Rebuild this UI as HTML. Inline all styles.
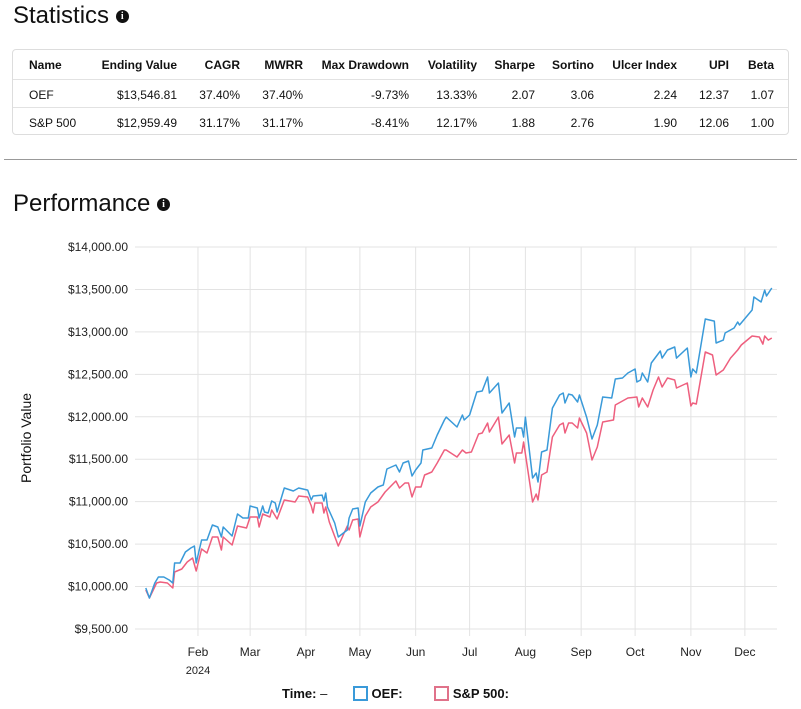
<!DOCTYPE html>
<html><head><meta charset="utf-8">
<style>
body{margin:0;width:801px;height:709px;background:#fff;font-family:"Liberation Sans",sans-serif;color:#111;position:relative;overflow:hidden}
.h{position:absolute;font-size:24px;color:#111}
.info{display:inline-block;width:13px;height:13px;border-radius:50%;background:#111;color:#fff;font-size:10px;font-weight:bold;text-align:center;line-height:13px;vertical-align:middle;font-family:"Liberation Serif",serif}
#tbl{position:absolute;left:12px;top:49px;width:777px;height:86px;border:1px solid #ddd;border-radius:4px;box-sizing:border-box}
.row{position:absolute;left:0;width:775px;height:28px;font-size:12px}
.row span{position:absolute;top:8px;white-space:nowrap}
.hd span{font-weight:bold}
.sep{border-top:1px solid #e2e2e2}
</style></head><body>
<div class="h" style="left:13px;top:2px">Statistics <span class="info">i</span></div>
<div id="tbl"></div>
<div style="position:absolute;left:4px;top:159px;width:793px;border-top:1px solid #999"></div>
<div class="h" style="left:13px;top:190px">Performance <span class="info">i</span></div>
<svg id="chart" width="801" height="709" style="position:absolute;left:0;top:0"></svg>
<div style="position:absolute;top:686px;left:282px;font-size:13px;font-weight:bold;white-space:nowrap">
<span>Time: <span style="font-weight:normal">–</span></span>
<span style="margin-left:22px"><span style="display:inline-block;width:11px;height:11px;border:2px solid #3a9ad9;vertical-align:-3px"></span> OEF:</span>
<span style="margin-left:28px"><span style="display:inline-block;width:11px;height:11px;border:2px solid #e0728a;vertical-align:-3px"></span> S&amp;P 500:</span>
</div>
<script>
const headers=["Name","Ending Value","CAGR","MWRR","Max Drawdown","Volatility","Sharpe","Sortino","Ulcer Index","UPI","Beta"];
const rowOEF=["OEF","$13,546.81","37.40%","37.40%","-9.73%","13.33%","2.07","3.06","2.24","12.37","1.07"];
const rowSPX=["S&P 500","$12,959.49","31.17%","31.17%","-8.41%","12.17%","1.88","2.76","1.90","12.06","1.00"];
const colRight=[0,164,227,290,396,464,522,581,664,716,761];
const tbl=document.getElementById('tbl');
[headers,rowOEF,rowSPX].forEach((r,ri)=>{
  const d=document.createElement('div');
  d.className='row'+(ri==0?' hd':' sep');
  d.style.top=(ri*28+(ri>0?1:0))+'px';
  
  
  r.forEach((t,ci)=>{
    const s=document.createElement('span');
    s.textContent=t;
    
    
    if(ci==0)s.style.left='16px';else s.style.right=(775-colRight[ci])+'px';
    d.appendChild(s);
  });
  tbl.appendChild(d);
});

// chart data: day-of-year (2024, Jan 1 = 0) and portfolio value
const oefDays=[2,4,7,9,12,15,17,18,21,24,27,29,30,33,36,39,42,44,45,50,53,56,59,60,64,65,67,68,70,72,74,75,79,84,87,92,94,95,100,101,102,103,107,109,114,115,117,120,121,124,127,131,134,136,141,143,145,148,150,152,155,156,161,164,168,169,175,178,179,182,186,189,192,193,198,200,204,207,208,211,212,213,217,219,220,222,225,228,232,234,235,237,239,242,243,247,250,253,256,261,263,267,270,274,275,277,278,281,283,288,289,292,296,297,303,305,306,308,313,318,319,323,324,329,331,332,339,340,344,346,347,350];
const oefVals=[9983,9865,10042,10113,10113,10077,10042,10278,10278,10407,10454,10478,10278,10548,10548,10725,10702,10584,10702,10596,10855,10808,10808,10949,10925,10808,10949,10878,10867,11008,10984,10878,11161,11126,11161,11137,11020,11067,11078,11008,11102,10937,10749,10584,10666,10808,10914,10925,10713,10996,11102,11173,11196,11385,11432,11350,11456,11479,11302,11373,11456,11609,11632,11785,11962,11997,11880,12021,11962,12021,12292,12304,12469,12280,12398,12045,12162,11762,11868,11868,11762,11997,11279,11338,11232,11585,11609,12103,12257,12280,12162,12268,12257,12174,12257,11997,11738,11903,12233,12221,12445,12457,12516,12563,12410,12433,12516,12410,12634,12775,12692,12787,12822,12692,12810,12469,12563,12516,13152,13128,12869,12904,12987,13046,13117,13081,13258,13411,13352,13493,13423,13517];
const spxDays=[2,4,8,10,14,17,18,22,25,28,30,33,36,39,42,44,45,50,53,58,60,64,65,67,71,72,75,79,85,87,92,94,95,96,100,101,102,104,109,114,115,117,120,121,124,127,131,135,141,143,146,148,150,152,155,157,161,164,168,169,175,178,180,183,187,189,192,193,198,200,204,207,208,211,212,217,219,220,222,225,228,232,234,235,237,239,242,243,247,250,253,256,262,263,270,275,276,278,281,284,287,289,292,296,297,303,305,306,308,313,317,319,323,327,331,333,339,343,345,346,348,350];
const spxVals=[9959,9865,10042,10054,10042,9983,10172,10207,10289,10336,10183,10442,10395,10584,10584,10431,10584,10490,10713,10690,10819,10819,10702,10855,10819,10902,10796,11020,10996,11067,11055,10949,10867,10984,10984,10867,10937,10761,10478,10713,10666,10784,10796,10584,10831,10937,10996,11114,11244,11161,11220,11220,11055,11173,11173,11314,11350,11456,11609,11609,11526,11609,11573,11585,11797,11809,11927,11821,11997,11679,11785,11456,11573,11573,11703,10996,11090,11020,11314,11350,11762,11903,11927,11809,11927,11927,11868,11986,11809,11491,11644,11939,11962,12139,12221,12233,12115,12221,12115,12316,12469,12351,12457,12433,12339,12398,12127,12162,12151,12763,12728,12492,12551,12692,12787,12846,12952,12940,12857,12952,12904,12928];
const yTicks=[9500,10000,10500,11000,11500,12000,12500,13000,13500,14000];
const monthLabels=["Feb","Mar","Apr","May","Jun","Jul","Aug","Sep","Oct","Nov","Dec"];
const monthDays=[31,60,91,121,152,182,213,244,274,305,335];

const X0=142.2,XS=1.799,Y0=629,YS=42.44/500;
function xs(d){return X0+d*XS}
function ys(v){return Y0-(v-9500)*YS}
const svg=document.getElementById('chart');
const NS='http://www.w3.org/2000/svg';
function el(t,a){const e=document.createElementNS(NS,t);for(const k in a)e.setAttribute(k,a[k]);svg.appendChild(e);return e}
yTicks.forEach(v=>{
  const l=el('line',{x1:135,x2:777,y1:ys(v),y2:ys(v),stroke:'#e3e3e3','stroke-width':1});
  
  
  const t=el('text',{x:128,y:ys(v)+4,'text-anchor':'end','font-size':12,fill:'#222','font-family':'Liberation Sans'});
  t.textContent='$'+v.toLocaleString('en-US')+'.00';
  
  
});
monthDays.forEach((d,i)=>{
  const l=el('line',{x1:xs(d),x2:xs(d),y1:247,y2:636,stroke:'#e3e3e3','stroke-width':1});
  
  
  const t=el('text',{x:xs(d),y:656,'text-anchor':'middle','font-size':12,fill:'#222','font-family':'Liberation Sans'});
  t.textContent=monthLabels[i];
  
  
});
const yr=el('text',{x:xs(31),y:674,'text-anchor':'middle','font-size':11,fill:'#222','font-family':'Liberation Sans'});
yr.textContent='2024';


const yt=el('text',{x:31,y:438,'text-anchor':'middle','font-size':14,fill:'#111','font-family':'Liberation Sans',transform:'rotate(-90 31 438)'});
yt.textContent='Portfolio Value';


function line(days,vals,color,name){
  const p=days.map((d,i)=>(i?'L':'M')+xs(d).toFixed(1)+','+ys(vals[i]).toFixed(1)).join('');
  const e=el('path',{d:p,fill:'none',stroke:color,'stroke-width':1.5,'stroke-linejoin':'round'});
  
  
}
line(spxDays,spxVals,'#ee5f7e','sp500-line');
line(oefDays,oefVals,'#3a9ad9','oef-line');
</script>
</body></html>
